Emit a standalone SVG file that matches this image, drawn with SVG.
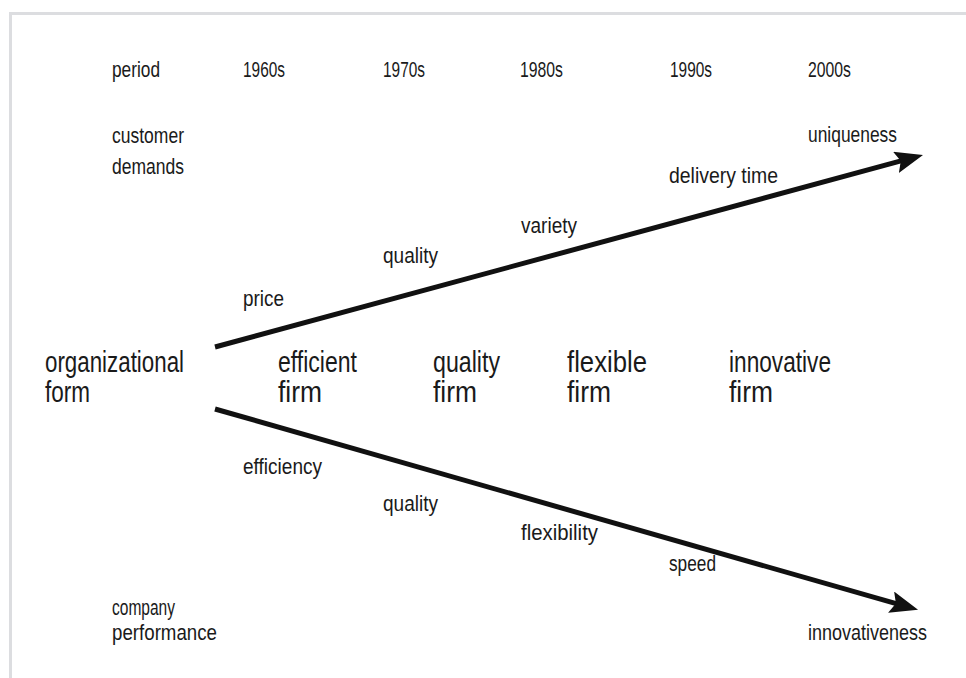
<svg xmlns="http://www.w3.org/2000/svg" width="966" height="678" viewBox="0 0 966 678">
  <style>
    text { font-family: "Liberation Sans", "DejaVu Sans", sans-serif; fill: #1a1a1a; }
    .s { font-size: 22px; }
    .b { font-size: 30px; }
    .frame { stroke: #dcdde0; stroke-width: 3; fill: none; }
    .arrow { stroke: #111; stroke-width: 5; fill: none; marker-end: url(#head); }
  </style>
  <defs>
    <marker id="head" markerUnits="userSpaceOnUse" viewBox="0 0 28 22" refX="8" refY="11" markerWidth="28" markerHeight="22" orient="auto">
      <path d="M0,0 L28,11 L0,22 L5,11 Z" fill="#111"/>
    </marker>
  </defs>
  <rect width="966" height="678" fill="#fff"/>
  <!-- border -->
  <path class="frame" d="M9,13.5 H966 M10.5,12 V678"/>

  <!-- connectors -->
  <g id="connectors">
    <line class="arrow" x1="215" y1="347" x2="903.7" y2="160.2"/>
    <line class="arrow" x1="215" y1="409" x2="898.8" y2="604.3"/>
  </g>

  <!-- period row -->
  <g id="period">
    <text class="s" x="112" y="77" textLength="48" lengthAdjust="spacingAndGlyphs">period</text>
    <text class="s" x="243" y="77" textLength="42" lengthAdjust="spacingAndGlyphs">1960s</text>
    <text class="s" x="383" y="77" textLength="42" lengthAdjust="spacingAndGlyphs">1970s</text>
    <text class="s" x="520" y="77" textLength="43" lengthAdjust="spacingAndGlyphs">1980s</text>
    <text class="s" x="670" y="77" textLength="42" lengthAdjust="spacingAndGlyphs">1990s</text>
    <text class="s" x="808" y="77" textLength="43" lengthAdjust="spacingAndGlyphs">2000s</text>
  </g>

  <!-- customer demands -->
  <g id="customer-demands">
    <text class="s" x="112" y="143" textLength="72" lengthAdjust="spacingAndGlyphs">customer</text>
    <text class="s" x="112" y="174" textLength="72" lengthAdjust="spacingAndGlyphs">demands</text>
    <text class="s" x="243" y="306" textLength="41" lengthAdjust="spacingAndGlyphs">price</text>
    <text class="s" x="383" y="263" textLength="55" lengthAdjust="spacingAndGlyphs">quality</text>
    <text class="s" x="521" y="233" textLength="56" lengthAdjust="spacingAndGlyphs">variety</text>
    <text class="s" x="669" y="183" textLength="109" lengthAdjust="spacingAndGlyphs">delivery time</text>
    <text class="s" x="808" y="142" textLength="89" lengthAdjust="spacingAndGlyphs">uniqueness</text>
  </g>

  <!-- organizational form -->
  <g id="organizational-form">
    <text class="b" x="45" y="372" textLength="139" lengthAdjust="spacingAndGlyphs">organizational</text>
    <text class="b" x="45" y="402" textLength="45" lengthAdjust="spacingAndGlyphs">form</text>
  </g>
  <g id="efficient-firm">
    <text class="b" x="278" y="372" textLength="79" lengthAdjust="spacingAndGlyphs">efficient</text>
    <text class="b" x="278" y="402" textLength="44" lengthAdjust="spacingAndGlyphs">firm</text>
  </g>
  <g id="quality-firm">
    <text class="b" x="433" y="372" textLength="67" lengthAdjust="spacingAndGlyphs">quality</text>
    <text class="b" x="433" y="402" textLength="44" lengthAdjust="spacingAndGlyphs">firm</text>
  </g>
  <g id="flexible-firm">
    <text class="b" x="567" y="372" textLength="80" lengthAdjust="spacingAndGlyphs">flexible</text>
    <text class="b" x="567" y="402" textLength="44" lengthAdjust="spacingAndGlyphs">firm</text>
  </g>
  <g id="innovative-firm">
    <text class="b" x="729" y="372" textLength="102" lengthAdjust="spacingAndGlyphs">innovative</text>
    <text class="b" x="729" y="402" textLength="44" lengthAdjust="spacingAndGlyphs">firm</text>
  </g>

  <!-- company performance -->
  <g id="company-performance">
    <text class="s" x="243" y="474" textLength="79" lengthAdjust="spacingAndGlyphs">efficiency</text>
    <text class="s" x="383" y="511" textLength="55" lengthAdjust="spacingAndGlyphs">quality</text>
    <text class="s" x="521" y="540" textLength="77" lengthAdjust="spacingAndGlyphs">flexibility</text>
    <text class="s" x="669" y="571" textLength="47" lengthAdjust="spacingAndGlyphs">speed</text>
    <text class="s" x="112" y="615" textLength="63" lengthAdjust="spacingAndGlyphs">company</text>
    <text class="s" x="112" y="640" textLength="105" lengthAdjust="spacingAndGlyphs">performance</text>
    <text class="s" x="808" y="640" textLength="119" lengthAdjust="spacingAndGlyphs">innovativeness</text>
  </g>
</svg>
